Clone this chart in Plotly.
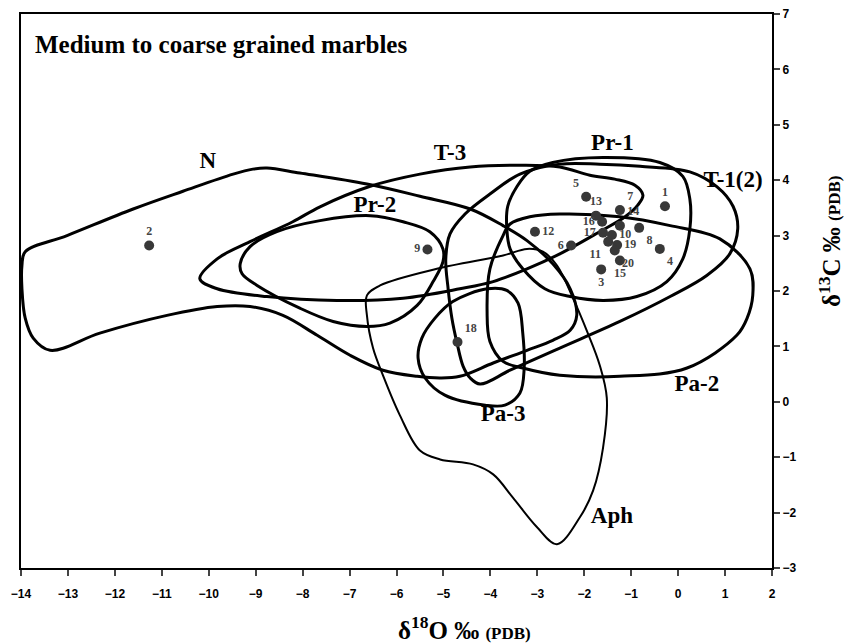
import plotly.graph_objects as go

# ---------------- data ----------------
sample_ids = ["1", "2", "3", "4", "5", "6", "7", "8", "9", "10",
              "11", "12", "13", "14", "15", "16", "17", "18", "19", "20"]
d18o = [-0.28, -11.27, -1.64, -0.39, -1.96, -2.28, -1.24, -0.83, -5.34, -1.41,
        -1.49, -3.05, -1.75, -1.24, -1.24, -1.62, -1.60, -4.70, -1.30, -1.35]
d13c = [3.53, 2.82, 2.39, 2.76, 3.70, 2.82, 3.46, 3.14, 2.75, 3.01,
        2.89, 3.07, 3.36, 3.18, 2.55, 3.25, 3.05, 1.08, 2.83, 2.73]
label_pos = ["top center", "top center", "bottom center", "bottom right", "top left",
             "middle left", "top right", "bottom right", "middle left", "middle right",
             "bottom left", "middle right", "top center", "top right", "bottom center",
             "middle left", "middle left", "top right", "middle right", "bottom right"]

# field outlines (delta18O, delta13C)
n_x = [-13.91, -13.02, -11.61, -10.55, -9.48, -9.06, -8.76, -8.06, -6.63, -5.50, -4.43,
       -3.73, -3.22, -2.67, -2.30, -2.16, -2.30, -2.67, -3.22, -3.94, -4.65, -5.07, -5.56,
       -6.29, -6.99, -7.69, -8.42, -9.12, -9.82, -10.89, -12.32, -13.38, -13.74, -13.91,
       -13.98, -13.98, -13.91]
n_y = [2.71, 3.00, 3.48, 3.80, 4.11, 4.20, 4.22, 4.13, 3.93, 3.71, 3.48,
       3.18, 2.91, 2.49, 2.04, 1.56, 1.29, 1.11, 0.93, 0.70, 0.46, 0.43, 0.46,
       0.57, 0.84, 1.20, 1.56, 1.72, 1.72, 1.56, 1.24, 0.93, 1.15, 1.51,
       2.04, 2.46, 2.71]

t3_x = [-10.19, -9.82, -9.12, -8.21, -7.63, -6.56, -5.50, -4.43, -3.37, -2.52, -1.88,
        -1.35, -0.92, -0.75, -0.86, -1.13, -1.67, -2.52, -3.22, -3.94, -4.65, -5.86,
        -7.27, -8.76, -9.82, -10.19]
t3_y = [2.22, 2.58, 2.89, 3.25, 3.52, 3.89, 4.11, 4.24, 4.27, 4.24, 4.09,
        4.02, 3.91, 3.73, 3.55, 3.34, 3.07, 2.67, 2.40, 2.17, 2.04, 1.87,
        1.83, 1.90, 2.04, 2.22]

pr1_x = [-3.65, -3.63, -3.43, -3.16, -2.67, -1.60, -0.39, 0.10, 0.25, 0.25, 0.10,
         -0.24, -0.88, -1.60, -2.30, -2.84, -3.31, -3.58, -3.65]
pr1_y = [3.12, 3.53, 3.89, 4.16, 4.32, 4.41, 4.32, 4.07, 3.66, 3.12, 2.58,
         2.17, 1.90, 1.83, 1.90, 2.04, 2.40, 2.76, 3.12]

pr2_x = [-9.33, -9.12, -8.55, -7.63, -6.56, -5.86, -5.29, -5.01, -5.01, -5.22, -5.56,
         -6.14, -6.63, -7.35, -8.06, -8.97, -9.29, -9.33]
pr2_y = [2.49, 2.80, 3.07, 3.27, 3.36, 3.25, 3.07, 2.76, 2.53, 2.17, 1.74,
         1.42, 1.36, 1.45, 1.69, 2.10, 2.31, 2.49]

t12_x = [-4.43, -4.22, -3.58, -2.52, -1.24, -0.17, 0.61, 1.10, 1.27, 1.17, 0.83,
         0.25, -0.81, -1.67, -2.52, -3.37, -4.01, -4.54, -4.86, -4.95, -4.90, -4.82,
         -4.71, -4.58, -4.43]
t12_y = [0.43, 0.32, 0.57, 0.97, 1.45, 1.90, 2.28, 2.67, 3.12, 3.53, 3.88,
         4.15, 4.25, 4.29, 4.29, 4.11, 3.75, 3.39, 3.03, 2.58, 2.04, 1.51,
         1.06, 0.64, 0.43]

pa2_x = [-3.58, -3.16, -2.52, -1.24, -0.17, 0.89, 1.53, 1.59, 1.47, 1.25, 0.19,
         -1.24, -2.52, -3.31, -3.73, -4.01, -4.07, -4.01, -3.73, -3.58]
pa2_y = [3.21, 3.34, 3.39, 3.34, 3.18, 2.94, 2.40, 1.92, 1.51, 1.20, 0.61,
         0.46, 0.48, 0.61, 0.73, 1.09, 1.63, 2.40, 3.00, 3.21]

pa3_x = [-5.54, -5.46, -5.18, -4.80, -4.07, -3.65, -3.41, -3.31, -3.28, -3.37, -3.69,
         -4.11, -4.97, -5.39, -5.54]
pa3_y = [0.79, 1.15, 1.51, 1.81, 2.04, 2.01, 1.78, 1.24, 0.61, 0.16, -0.06,
         -0.06, 0.12, 0.43, 0.79]

aph_x = [-6.63, -6.35, -5.14, -3.73, -3.22, -2.88, -2.58, -2.24, -1.94, -1.67, -1.52,
         -1.60, -1.81, -2.09, -2.58, -3.01, -3.52, -3.94, -4.37, -5.07, -5.50, -5.93,
         -6.29, -6.50, -6.63, -6.63]
aph_y = [1.92, 2.10, 2.40, 2.64, 2.76, 2.71, 2.46, 1.87, 1.27, 0.66, 0.07,
         -0.83, -1.60, -2.08, -2.57, -2.26, -1.73, -1.31, -1.13, -1.04, -0.88, -0.24,
         0.48, 0.97, 1.56, 1.92]

field_names = ["N", "T-3", "Pr-1", "Pr-2", "T-1(2)", "Pa-2", "Pa-3", "Aph"]
field_label_x = [-10.02, -4.86, -1.40, -6.46, 1.17, 0.40, -3.73, -1.41]
field_label_y = [4.32, 4.47, 4.65, 3.53, 3.98, 0.30, -0.25, -2.08]

x_ticks = list(range(-14, 3))
y_ticks = list(range(-3, 8))

# ---------------- figure ----------------
fig = go.Figure()

outlines = [(n_x, n_y, 3), (t3_x, t3_y, 3), (pr1_x, pr1_y, 3), (pr2_x, pr2_y, 3),
            (t12_x, t12_y, 3), (pa2_x, pa2_y, 3), (pa3_x, pa3_y, 3), (aph_x, aph_y, 2)]
for (xs, ys, w), name in zip(outlines, field_names):
    fig.add_trace(go.Scatter(x=xs, y=ys, mode="lines", name=name,
                             line=dict(color="black", width=w, shape="spline", smoothing=1.0),
                             hoverinfo="name", showlegend=False))

fig.add_trace(go.Scatter(
    x=d18o, y=d13c, mode="markers+text", text=sample_ids, textposition=label_pos,
    marker=dict(size=10, color="#383838"),
    textfont=dict(family="Liberation Serif", size=12, color="#444444", weight="bold"),
    showlegend=False, cliponaxis=False))

fig.add_trace(go.Scatter(
    x=field_label_x, y=field_label_y, mode="text", text=field_names,
    textfont=dict(family="Liberation Serif", size=23, color="black", weight="bold"),
    showlegend=False))

fig.add_annotation(xref="paper", yref="paper", x=0.016, y=0.945, xanchor="left", yanchor="middle",
                   text="<b>Medium to coarse grained marbles</b>", showarrow=False,
                   font=dict(family="Liberation Serif", size=25, color="black"))

fig.add_annotation(xref="paper", yref="paper", x=0.59, y=-0.108, xanchor="center", yanchor="middle",
                   text="<b>δ<sup>18</sup>O ‰ <span style='font-size:17px'>(PDB)</span></b>",
                   showarrow=False, font=dict(family="Liberation Serif", size=25, color="black"))

fig.add_annotation(xref="paper", yref="paper", x=1.077, y=0.59, xanchor="center", yanchor="middle",
                   textangle=-90,
                   text="<b>δ<sup>13</sup>C ‰ <span style='font-size:17px'>(PDB)</span></b>",
                   showarrow=False, font=dict(family="Liberation Serif", size=25, color="black"))

fig.update_xaxes(range=[-14, 2], tickvals=x_ticks, ticks="outside", ticklen=6, tickwidth=2,
                 showline=True, linewidth=2, linecolor="black", mirror=True,
                 showgrid=False, zeroline=False, ticklabelstandoff=8,
                 tickfont=dict(family="Liberation Sans", size=12, color="black", weight="bold"))
fig.update_yaxes(range=[-3, 7], tickvals=y_ticks, side="right", ticks="outside", ticklen=6,
                 tickwidth=2, showline=True, linewidth=2, linecolor="black", mirror=True,
                 showgrid=False, zeroline=False,
                 tickfont=dict(family="Liberation Sans", size=12, color="black", weight="bold"))

fig.update_layout(width=853, height=644, margin=dict(l=21, r=81, t=14, b=76, autoexpand=False),
                  paper_bgcolor="white", plot_bgcolor="white")

fig.write_html("out.html", config={"displayModeBar": False},
               post_script="document.body.style.margin='0px';document.body.style.overflow='hidden';")
